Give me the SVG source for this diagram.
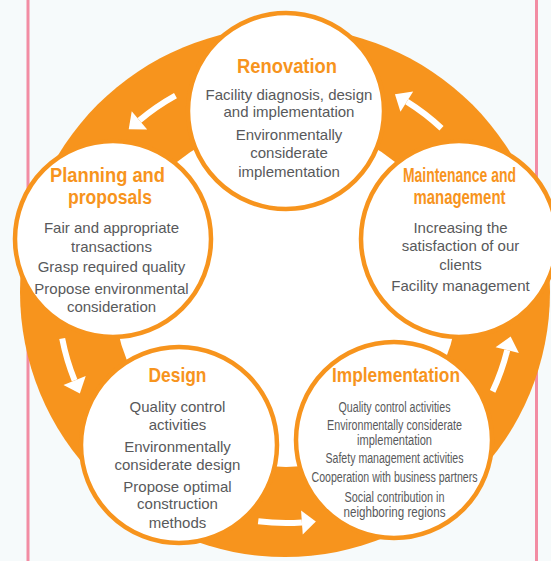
<svg xmlns="http://www.w3.org/2000/svg" width="551" height="561" viewBox="0 0 551 561">
  <style>
    .ring { fill: #f7941d; }
    .hub { fill: #ffffff; }
    .node { fill: #ffffff; stroke: #f7941d; stroke-width: 4.5; }
    .title { font-family: "Liberation Sans", Arial, sans-serif; font-weight: bold; font-size: 21px; fill: #f7941d; text-anchor: middle; }
    .body { font-family: "Liberation Sans", Arial, sans-serif; font-size: 15px; fill: #58595b; text-anchor: middle; }
    .small { font-family: "Liberation Sans", Arial, sans-serif; font-size: 14px; fill: #58595b; text-anchor: middle; }
    .shaft { fill: none; stroke: #ffffff; stroke-width: 6; }
    .head { fill: #ffffff; }
    .edge { stroke: #f28ca3; stroke-width: 3; }
  </style>
  <defs>
    <!-- one cycle arrow, drawn at the bottom of the ring (centre at 0,0) -->
    <g id="cycle-arrow">
      <path class="shaft" d="M -27.79 226.30 A 228 228 0 0 0 15.90 227.44"/>
      <polygon class="head" points="15.07,215.47 16.74,239.42 29.87,226.46"/>
    </g>
  </defs>

  <rect width="551" height="561" fill="#f6fafb"/>
  <line class="edge" x1="28" y1="0" x2="28" y2="561"/>
  <line class="edge" x1="536.5" y1="0" x2="536.5" y2="561"/>

  <!-- orange cycle band with white hub -->
  <circle class="ring" cx="285" cy="292" r="265"/>
  <circle class="hub" cx="286" cy="295" r="172"/>

  <g id="connectors">
    <use href="#cycle-arrow" transform="translate(286,295) rotate(144)"/>
    <use href="#cycle-arrow" transform="translate(286,295) rotate(72)"/>
    <use href="#cycle-arrow" transform="translate(286,295)"/>
    <use href="#cycle-arrow" transform="translate(286,295) rotate(-72)"/>
    <use href="#cycle-arrow" transform="translate(286,295) rotate(216)"/>
  </g>

  <g id="renovation">
    <circle class="node" cx="286" cy="111" r="98"/>
    <text class="title" x="287" y="73" textLength="100" lengthAdjust="spacingAndGlyphs">Renovation</text>
    <text class="body" x="289" y="100">Facility diagnosis, design</text>
    <text class="body" x="289" y="117">and implementation</text>
    <text class="body" x="289" y="140">Environmentally</text>
    <text class="body" x="289" y="158">considerate</text>
    <text class="body" x="289" y="177">implementation</text>
  </g>

  <g id="planning">
    <circle class="node" cx="113" cy="239" r="98"/>
    <text class="title" x="107.5" y="182" textLength="115" lengthAdjust="spacingAndGlyphs">Planning and</text>
    <text class="title" x="110" y="204" textLength="84" lengthAdjust="spacingAndGlyphs">proposals</text>
    <text class="body" x="111.5" y="233">Fair and appropriate</text>
    <text class="body" x="111.5" y="252">transactions</text>
    <text class="body" x="111.5" y="272">Grasp required quality</text>
    <text class="body" x="111.5" y="294">Propose environmental</text>
    <text class="body" x="111.5" y="312">consideration</text>
  </g>

  <g id="maintenance">
    <circle class="node" cx="459" cy="239" r="98"/>
    <text class="title" x="459.5" y="182" textLength="113" lengthAdjust="spacingAndGlyphs">Maintenance and</text>
    <text class="title" x="459.5" y="204" textLength="92" lengthAdjust="spacingAndGlyphs">management</text>
    <text class="body" x="460.5" y="233">Increasing the</text>
    <text class="body" x="460.5" y="251">satisfaction of our</text>
    <text class="body" x="460.5" y="270">clients</text>
    <text class="body" x="460.5" y="291">Facility management</text>
  </g>

  <g id="design">
    <circle class="node" cx="179" cy="445" r="98"/>
    <text class="title" x="177.5" y="382" textLength="58" lengthAdjust="spacingAndGlyphs">Design</text>
    <text class="body" x="177.5" y="412">Quality control</text>
    <text class="body" x="177.5" y="430">activities</text>
    <text class="body" x="177.5" y="452">Environmentally</text>
    <text class="body" x="177.5" y="470">considerate design</text>
    <text class="body" x="177.5" y="492">Propose optimal</text>
    <text class="body" x="177.5" y="509">construction</text>
    <text class="body" x="177.5" y="528">methods</text>
  </g>

  <g id="implementation">
    <circle class="node" cx="394" cy="440" r="98"/>
    <text class="title" x="396" y="382" textLength="128" lengthAdjust="spacingAndGlyphs">Implementation</text>
    <text class="small" x="394.5" y="412" textLength="112" lengthAdjust="spacingAndGlyphs">Quality control activities</text>
    <text class="small" x="394.5" y="430" textLength="135" lengthAdjust="spacingAndGlyphs">Environmentally considerate</text>
    <text class="small" x="394.5" y="445" textLength="75" lengthAdjust="spacingAndGlyphs">implementation</text>
    <text class="small" x="394.5" y="463" textLength="138" lengthAdjust="spacingAndGlyphs">Safety management activities</text>
    <text class="small" x="394.5" y="482" textLength="166" lengthAdjust="spacingAndGlyphs">Cooperation with business partners</text>
    <text class="small" x="394.5" y="502" textLength="100" lengthAdjust="spacingAndGlyphs">Social contribution in</text>
    <text class="small" x="394.5" y="517" textLength="102" lengthAdjust="spacingAndGlyphs">neighboring regions</text>
  </g>
</svg>
